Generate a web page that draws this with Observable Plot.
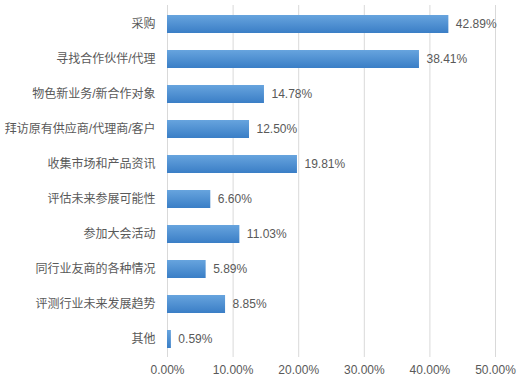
<!DOCTYPE html>
<html><head><meta charset="utf-8">
<script src="https://cdn.jsdelivr.net/npm/d3@7"></script>
<script src="https://cdn.jsdelivr.net/npm/@observablehq/plot@0.6"></script>
<style>
body{margin:0;background:#fff;}
#chart svg{font-family:"Liberation Sans","Noto Sans CJK SC",sans-serif;}
</style>
</head><body><div id="chart"></div>
<script>
const categories = ["采购","寻找合作伙伴/代理","物色新业务/新合作对象","拜访原有供应商/代理商/客户","收集市场和产品资讯","评估未来参展可能性","参加大会活动","同行业友商的各种情况","评测行业未来发展趋势","其他"];
const values = [42.89,38.41,14.78,12.50,19.81,6.60,11.03,5.89,8.85,0.59];
const xTicks = [0,10,20,30,40,50];

const data = categories.map((c,i)=>({cat:c, v:values[i]}));

const chart = Plot.plot({
  width: 520,
  height: 379,
  marginLeft: 167,
  marginRight: 25,
  marginTop: 5,
  marginBottom: 22,
  style: {fontSize: "12px", color: "#595959", background: "#fff"},
  x: {domain: [0,50], ticks: xTicks, tickFormat: d => d.toFixed(2) + "%", grid: false, label: null, tickSize: 0, tickPadding: 8},
  y: {domain: categories, label: null, tickSize: 0, tickPadding: 12, paddingInner: 0.5, paddingOuter: 0.25},
  marks: [
    Plot.ruleX(xTicks, {stroke: "#d9d9d9", strokeWidth: 1}),
    Plot.barX(data, {x: "v", y: "cat", fill: "url(#barGrad)"}),
    Plot.text(data, {x: "v", y: "cat", text: d => d.v.toFixed(2) + "%", dx: 7, textAnchor: "start", fill: "#595959", fontSize: 12})
  ]
});

const ns = "http://www.w3.org/2000/svg";
const defs = document.createElementNS(ns, "defs");
defs.innerHTML = '<linearGradient id="barGrad" x1="0" y1="0" x2="0" y2="1"><stop offset="0" stop-color="#67a4de"/><stop offset="1" stop-color="#3a7ec6"/></linearGradient>';
chart.insertBefore(defs, chart.firstChild);
document.getElementById("chart").appendChild(chart);
</script>
</body></html>
